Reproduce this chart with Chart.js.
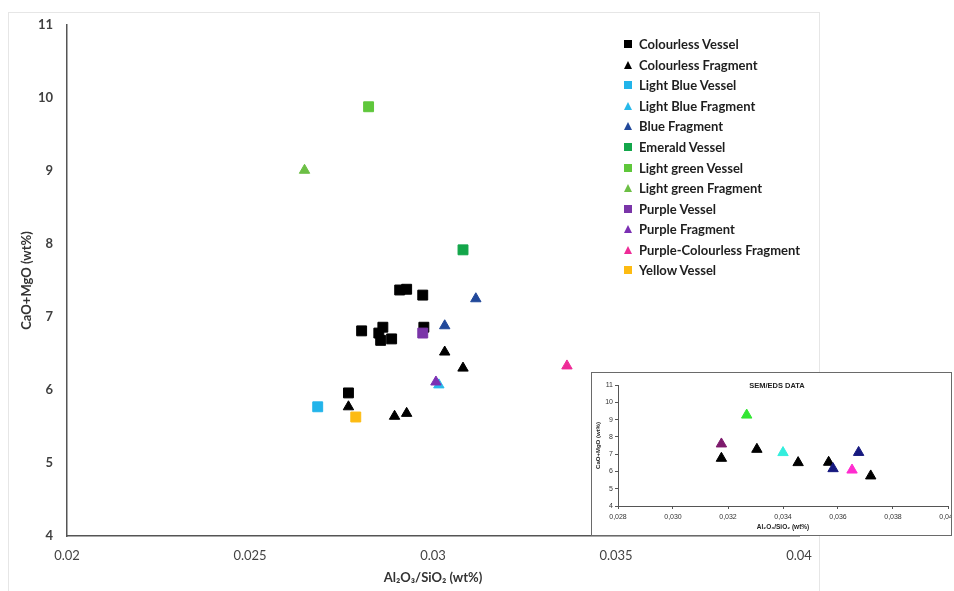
<!DOCTYPE html>
<html>
<head>
<meta charset="utf-8">
<script src="https://cdn.jsdelivr.net/npm/chart.js@4"></script>
<style>
  body { margin: 0; background: #fff; font-family: Lato, "DejaVu Sans", sans-serif; }
  #wrap { position: relative; width: 954px; height: 591px; overflow: hidden; }
  #frame { position: absolute; left: 8px; top: 12px; width: 810px; height: 600px; border: 1px solid #e6e6e6; }
  #main { position: absolute; left: 0; top: 0; }
  #legend { position: absolute; left: 622px; top: 34px; }
  .row { height: 20.55px; display: flex; align-items: center; font-weight: bold; font-size: 13px; color: #1e1e1e; white-space: nowrap; }
  .mk { width: 11px; display: flex; justify-content: center; margin-right: 6px; }
  .sq { width: 8px; height: 8px; }
  .tri { width: 0; height: 0; border-left: 4.5px solid transparent; border-right: 4.5px solid transparent; border-bottom: 8px solid #000; }
  #insetBox { position: absolute; left: 591px; top: 372px; width: 359px; height: 162px; border: 1.5px solid #6a6a6a; background: #fff; overflow: hidden; }
  #inset { position: absolute; left: 0; top: 0; }
  #insetTitle { position: absolute; left: 150px; top: 8px; width: 70px; text-align: center; font-weight: bold; font-size: 7.5px; color: #222; font-family: "Liberation Sans", Arial, sans-serif; }
</style>
</head>
<body>
<div id="wrap">
  <div id="frame"></div>
  <canvas id="main" width="954" height="591"></canvas>
  <div id="legend"></div>
  <div id="insetBox">
    <canvas id="inset" width="380" height="162"></canvas>
    <div id="insetTitle">SEM/EDS DATA</div>
  </div>
</div>
<script>
// main plot: [Al2O3/SiO2, CaO+MgO]
var seriesNames = ['Colourless Vessel', 'Colourless Fragment', 'Light Blue Vessel', 'Light Blue Fragment',
  'Blue Fragment', 'Emerald Vessel', 'Light green Vessel', 'Light green Fragment', 'Purple Vessel',
  'Purple Fragment', 'Purple-Colourless Fragment', 'Yellow Vessel'];
var seriesShapes = ['rect', 'triangle', 'rect', 'triangle', 'triangle', 'rect', 'rect', 'triangle', 'rect',
  'triangle', 'triangle', 'rect'];
var seriesColors = ['#000000', '#000000', '#22b4ea', '#28b9ea', '#21489a', '#13a64a', '#5fc73b', '#6cbf45',
  '#7a35a8', '#7b2fb3', '#ee2b97', '#fdbb12'];

var colourlessVessel = [[0.02909, 7.37], [0.02928, 7.38], [0.02972, 7.30], [0.02805, 6.81], [0.02863, 6.86],
  [0.02852, 6.78], [0.02857, 6.68], [0.02887, 6.70], [0.02975, 6.86], [0.02769, 5.96]];
var colourlessFragment = [[0.03032, 6.52], [0.03082, 6.30], [0.02769, 5.77], [0.02895, 5.64], [0.02928, 5.68]];
var lightBlueVessel = [[0.02685, 5.77]];
var lightBlueFragment = [[0.03016, 6.07]];
var blueFragment = [[0.03117, 7.25], [0.03032, 6.88]];
var emeraldVessel = [[0.03082, 7.92]];
var lightGreenVessel = [[0.02824, 9.88]];
var lightGreenFragment = [[0.02649, 9.01]];
var purpleVessel = [[0.02972, 6.78]];
var purpleFragment = [[0.03008, 6.11]];
var purpleColourlessFragment = [[0.03366, 6.33]];
var yellowVessel = [[0.02789, 5.63]];

var xTickLabels = ['0.02', '0.025', '0.03', '0.035', '0.04'];
var yTickLabels = ['4', '5', '6', '7', '8', '9', '10', '11'];

// inset (SEM/EDS)
var semColors = ['#7d1a6c', '#000000', '#33e633', '#000000', '#33eedd', '#000000', '#000000', '#16197f',
  '#16197f', '#ff2ccf', '#000000'];
var semPoints = [[0.03176, 7.59], [0.03176, 6.76], [0.03268, 9.26], [0.03305, 7.28], [0.0340, 7.09],
  [0.03455, 6.51], [0.03566, 6.53], [0.03582, 6.16], [0.03675, 7.10], [0.03651, 6.08], [0.03719, 5.74]];
var semXTickLabels = ['0,028', '0,030', '0,032', '0,034', '0,036', '0,038', '0,040'];
var semYTickLabels = ['4', '5', '6', '7', '8', '9', '10', '11'];

var seriesData = [colourlessVessel, colourlessFragment, lightBlueVessel, lightBlueFragment, blueFragment,
  emeraldVessel, lightGreenVessel, lightGreenFragment, purpleVessel, purpleFragment,
  purpleColourlessFragment, yellowVessel];

function toPts(arr) {
  return arr.map(function(p) { return {x: p[0], y: p[1]}; });
}

var datasets = seriesNames.map(function(name, i) {
  return {
    label: name,
    data: toPts(seriesData[i]),
    pointStyle: seriesShapes[i],
    pointRadius: seriesShapes[i] === 'rect' ? 7 : 6,
    backgroundColor: seriesColors[i],
    borderColor: seriesColors[i],
    borderWidth: 1,
    order: seriesNames.length - i
  };
});

// legend as html
var $legend = document.getElementById('legend');
var html = '';
seriesNames.forEach(function(name, i) {
  var mk = seriesShapes[i] === 'rect'
    ? '<div class="sq" style="background:' + seriesColors[i] + '"></div>'
    : '<div class="tri" style="border-bottom-color:' + seriesColors[i] + '"></div>';
  html += '<div class="row"><div class="mk">' + mk + '</div>' + name + '</div>';
});
$legend.innerHTML = html;

var axisFont = 'Lato';

new Chart(document.getElementById('main').getContext('2d'), {
  type: 'scatter',
  data: { datasets: datasets },
  options: {
    responsive: false,
    animation: false,
    events: [],
    layout: { padding: { left: 0, right: 155, top: 25, bottom: 0 } },
    plugins: { legend: { display: false }, tooltip: { enabled: false } },
    scales: {
      x: {
        type: 'linear', min: 0.02, max: 0.04,
        afterFit: function(s) { s.height = 55; },
        afterBuildTicks: function(s) { s.ticks = xTickLabels.map(function(t) { return {value: +t}; }); },
        ticks: {
          padding: 12, color: '#444',
          font: { family: axisFont, size: 13 },
          callback: function(v, i) { return xTickLabels[i]; }
        },
        grid: { display: true, drawOnChartArea: false, drawTicks: false },
        border: { color: '#555', width: 1.5 },
        title: { display: true, text: 'Al₂O₃/SiO₂ (wt%)', color: '#333',
          font: { family: axisFont, size: 13, weight: 'bold' }, padding: { top: 0, bottom: 5 } }
      },
      y: {
        type: 'linear', min: 4, max: 11,
        afterFit: function(s) { s.width = 67; },
        afterBuildTicks: function(s) { s.ticks = yTickLabels.map(function(t) { return {value: +t}; }); },
        ticks: {
          padding: 14, color: '#404040',
          font: { family: axisFont, size: 13, weight: 'bold' },
          callback: function(v, i) { return yTickLabels[i]; }
        },
        grid: { display: true, drawOnChartArea: false, drawTicks: false },
        border: { color: '#555', width: 1.5 },
        title: { display: true, text: 'CaO+MgO (wt%)', color: '#333',
          font: { family: axisFont, size: 13, weight: 'bold' }, padding: { top: 19, bottom: 0 } }
      }
    }
  }
});

var smallFont = 'Liberation Sans';

new Chart(document.getElementById('inset').getContext('2d'), {
  type: 'scatter',
  data: {
    datasets: [{
      label: 'SEM/EDS DATA',
      data: toPts(semPoints),
      pointStyle: 'triangle',
      pointRadius: 6,
      backgroundColor: semColors,
      borderColor: semColors,
      borderWidth: 1
    }]
  },
  options: {
    responsive: false,
    animation: false,
    events: [],
    layout: { padding: { left: 0, right: 24, top: 12, bottom: 0 } },
    plugins: { legend: { display: false }, tooltip: { enabled: false } },
    scales: {
      x: {
        type: 'linear', min: 0.028, max: 0.040,
        afterFit: function(s) { s.height = 29; },
        afterBuildTicks: function(s) { s.ticks = semXTickLabels.map(function(t) { return {value: +t.replace(',', '.')}; }); },
        ticks: {
          padding: 4, color: '#333', maxRotation: 0,
          font: { family: smallFont, size: 7 },
          callback: function(v, i) { return semXTickLabels[i]; }
        },
        grid: { display: true, drawOnChartArea: false, drawTicks: true, tickLength: 3, color: '#555' },
        border: { color: '#555', width: 1 },
        title: { display: true, text: 'Al₂O₃/SiO₂ (wt%)', color: '#222',
          font: { family: smallFont, size: 6.5, weight: 'bold' }, padding: { top: 0, bottom: 4 } }
      },
      y: {
        type: 'linear', min: 4, max: 11,
        afterFit: function(s) { s.width = 26; },
        afterBuildTicks: function(s) { s.ticks = semYTickLabels.map(function(t) { return {value: +t}; }); },
        ticks: {
          padding: 2, color: '#333',
          font: { family: smallFont, size: 7 },
          callback: function(v, i) { return semYTickLabels[i]; }
        },
        grid: { display: true, drawOnChartArea: false, drawTicks: true, tickLength: 3, color: '#555' },
        border: { color: '#555', width: 1 },
        title: { display: true, text: 'CaO+MgO (wt%)', color: '#222',
          font: { family: smallFont, size: 6, weight: 'bold' }, padding: { top: 3, bottom: 0 } }
      }
    }
  }
});
</script>
</body>
</html>
